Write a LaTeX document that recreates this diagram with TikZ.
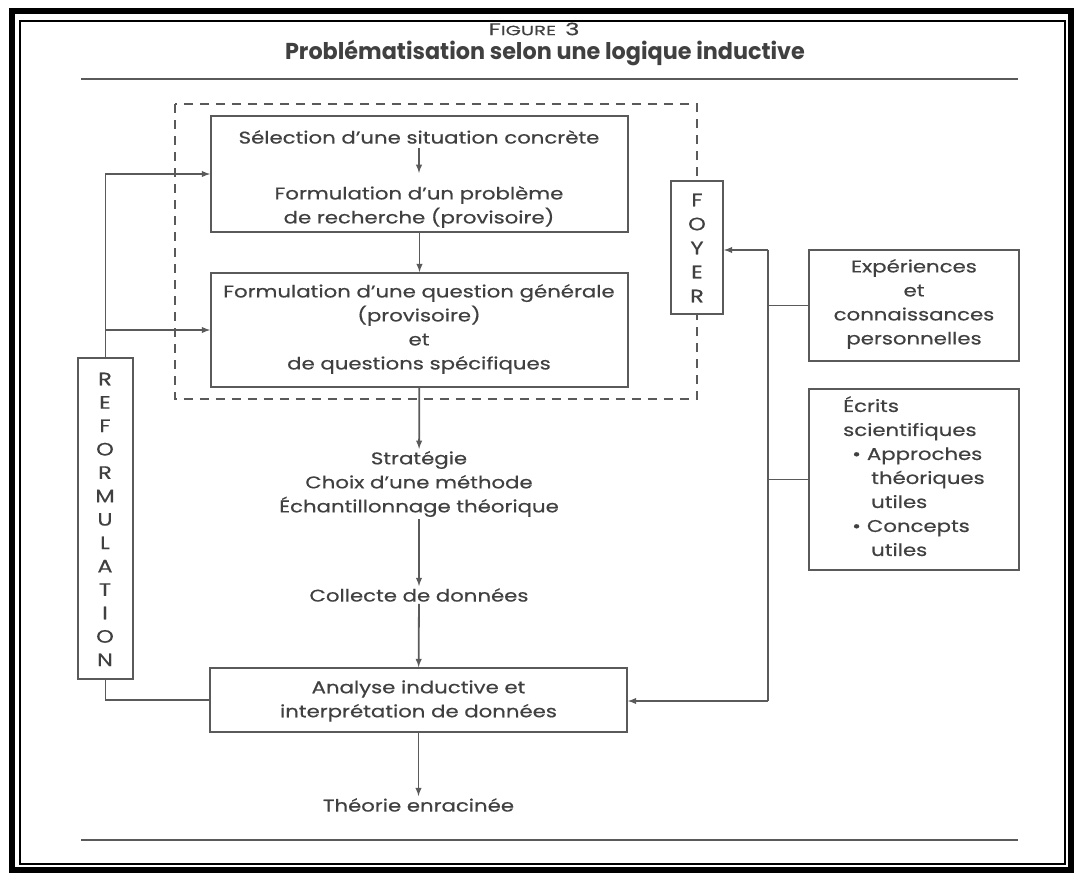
\documentclass[tikz,border=0pt]{standalone}
\usepackage{fontspec}
\setmainfont{Poppins}[FakeStretch=1.25, FakeBold=0.5]
\newfontfamily\titlefont{Poppins}[FakeStretch=0.97]
\newfontfamily\figfont{Poppins}[FakeStretch=1.45, FakeBold=0.3]
\usetikzlibrary{positioning}
\definecolor{ink}{HTML}{404040}
\definecolor{rule}{HTML}{5A5A5A}

\tikzset{
  txt/.style={text=ink, align=center, inner sep=2pt,
    font=\fontsize{17}{24}\selectfont},
  box/.style={draw=rule, line width=1.8pt, fill=white, inner sep=0pt},
  conn/.style={draw=rule, line width=1.8pt},
  flow/.style={conn, ->, >=latex},
  letter/.style={txt, inner sep=0pt, font=\fontsize{18}{24}\selectfont}
}

\begin{document}
\begin{tikzpicture}[x=1pt,y=-1pt]
    \useasboundingbox (0,0) rectangle (1077,878);
    % cadre
    \draw [line width=6pt] (12,11) rectangle (1071,870);
    \draw [line width=1.2pt] (20,21) rectangle (1065,864);
    \draw [conn] (81,79) -- (1018,79);
    \draw [conn] (81,840) -- (1018,840);

    \node [txt, font=\figfont\fontsize{17}{18}\selectfont] (fig) at (534,29)
        {F{\fontsize{13.5}{13}\selectfont IGURE}\hspace{9pt}3};
    \node [txt, font=\titlefont\fontsize{23}{24}\selectfont\bfseries] (titre) at (545,53)
        {Problématisation selon une logique inductive};

    % foyer (pointilles)
    \draw [conn, line width=1.4pt, dash pattern=on 9pt off 7pt] (175,104) rectangle (697,399);

    \node [box, minimum width=417pt, minimum height=116pt] (b1) at (419.5,174) {};
    \node [box, minimum width=417pt, minimum height=114pt] (b2) at (419.5,330) {};
    \node [box, minimum width=52pt, minimum height=133pt] (foyer) at (697,247.5) {};
    \node [box, minimum width=55pt, minimum height=321pt] (reform) at (105.5,518.5) {};
    \node [box, minimum width=417pt, minimum height=64pt] (analyse) at (418.5,700) {};
    \node [box, minimum width=210pt, minimum height=111pt] (exp) at (914,305.5) {};
    \node [box, minimum width=210pt, minimum height=181pt] (ecrits) at (914,479.5) {};

    \node [txt] (select) at (419,137) {Sélection d’une situation concrète};
    \node [txt] (formpb) at (419,207) {Formulation d’un problème\\de recherche (provisoire)};
    \node [txt] (quest) at (419,329) {Formulation d’une question générale\\(provisoire)\\et\\de questions spécifiques};
    \node [txt] (strat) at (419,484) {Stratégie\\Choix d’une méthode\\Échantillonnage théorique};
    \node [txt] (collecte) at (419,595) {Collecte de données};
    \node [txt] (anatxt) at (418.5,701) {Analyse inductive et\\interprétation de données};
    \node [txt] (theorie) at (418.5,805) {Théorie enracinée};
    \node [txt] (exptxt) at (914,304) {Expériences\\et\\connaissances\\personnelles};
    \node [txt, align=left, anchor=north west, inner sep=0pt] (ecrtxt) at (843,396)
        {Écrits\\scientifiques\\\hspace*{9pt}\textbullet\hspace{6pt}Approches\\\hspace*{28pt}théoriques\\\hspace*{28pt}utiles\\\hspace*{9pt}\textbullet\hspace{6pt}Concepts\\\hspace*{28pt}utiles};

    \foreach \l [count=\i] in {F,O,Y,E,R}
        \node [letter] (f\i) at (697,{200+24*(\i-1)}) {\l};
    \foreach \l [count=\i] in {R,E,F,O,R,M,U,L,A,T,I,O,N}
        \node [letter] (r\i) at (105,{379+23.4*(\i-1)}) {\l};

    % fleches centrales
    \draw [flow, shorten <=2pt, shorten >=11pt] (select) -- (formpb);
    \draw [flow] (b1) -- (b2);
    \draw [flow] (b2) -- (strat);
    \draw [flow] (strat) -- (collecte);
    \draw [flow] (collecte) -- (analyse);
    \draw [flow] (analyse) -- (theorie);

    % reformulation
    \draw [conn] (analyse.west) -| (reform.south);
    \draw [flow] (reform.north) |- (b1.west);
    \draw [flow] (reform.north |- b2.west) -- (b2.west);

    % sources
    \coordinate (haut) at (768,250);
    \coordinate (bas) at (768,701);
    \draw [conn] (haut) -- (bas);
    \draw [flow] (haut) -- (foyer.east |- haut);
    \draw [flow] (bas) -- (analyse.east |- bas);
    \draw [conn] (exp.west) -- (exp.west -| haut);
    \draw [conn] (ecrits.west) -- (ecrits.west -| haut);
\end{tikzpicture}
\end{document}
